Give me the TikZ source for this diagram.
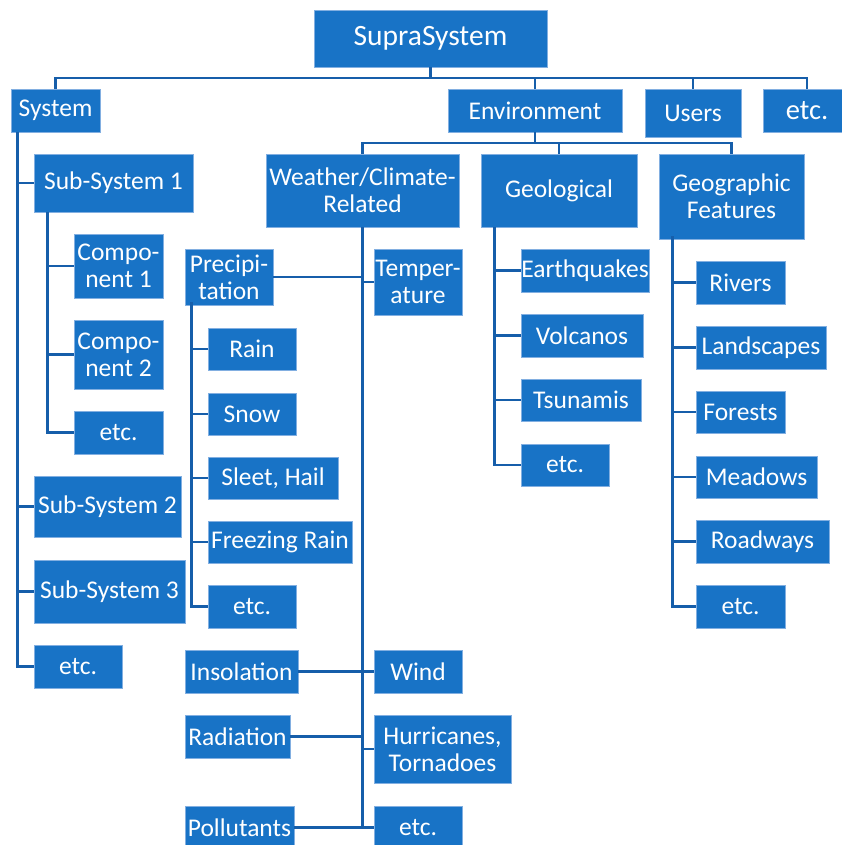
\documentclass[tikz,border=0pt]{standalone}
\usepackage{fontspec}
\setmainfont{Carlito}
\definecolor{boxblue}{RGB}{24,115,198}
\definecolor{boxedge}{RGB}{130,175,225}
\definecolor{linkblue}{RGB}{22,94,170}
\begin{document}
\begin{tikzpicture}[
    x=1pt, y=-1pt,
    % Box styles
    box/.style={fill=boxblue, draw=boxedge, line width=0.6pt, text=white, align=center, inner sep=0pt,
                font=\fontsize{25.5}{27}\selectfont},
    topbox/.style={box, font=\fontsize{29.5}{32}\selectfont},
    % Connector styles
    link/.style={draw=linkblue, line width=2.8pt},
]
\useasboundingbox (0,0) rectangle (841,845);

% === SUPRASYSTEM (top) ===
\node[topbox, minimum width=233pt, minimum height=57pt] (supra) at (430.5, 38.5) {SupraSystem};

% === FIRST LEVEL ===
\node[box, minimum width=89pt, minimum height=43pt] (system) at (55.5, 110.5) {System};
\node[box, minimum width=174pt, minimum height=43pt] (env) at (535, 110.5) {Environment};
\node[box, minimum width=96pt, minimum height=48pt] (users) at (693, 113) {Users};
\node[box, minimum width=88pt, minimum height=43pt, font=\fontsize{28.5}{30}\selectfont] (etc0) at (807, 110.5) {etc.};

\coordinate (bus0) at (0, 78);
\draw[link] (supra.south) -- (supra.south |- bus0);
\draw[link] (system.north) -- (system.north |- bus0) -| (etc0.north);
\draw[link] (env.north) -- (env.north |- bus0);
\draw[link] (users.north) -- (users.north |- bus0);

% === SYSTEM BRANCH (left) ===
\node[box, minimum width=159pt, minimum height=58pt] (sub1) at (113.5, 183) {Sub-System 1};
\node[box, minimum width=89pt, minimum height=64pt] (comp1) at (118.5, 266) {Compo-\\nent 1};
\node[box, minimum width=89pt, minimum height=69pt] (comp2) at (118.5, 354.5) {Compo-\\nent 2};
\node[box, minimum width=89pt, minimum height=43pt] (cetc) at (118.5, 432.5) {etc.};
\node[box, minimum width=147pt, minimum height=61pt] (sub2) at (107.5, 506.5) {Sub-System 2};
\node[box, minimum width=151pt, minimum height=63pt] (sub3) at (109.5, 591.5) {Sub-System 3};
\node[box, minimum width=88pt, minimum height=43pt] (setc) at (78, 666.5) {etc.};

\coordinate (systrunk) at ([xshift=7pt]system.south west);
\draw[link] (systrunk) |- (setc.west);
\foreach \n in {sub1, sub2, sub3}
    \draw[link] (\n.west) -- (\n.west -| systrunk);

\coordinate (subtrunk) at ([xshift=14pt]sub1.south west);
\draw[link] (subtrunk) |- (cetc.west);
\foreach \n in {comp1, comp2}
    \draw[link] (\n.west) -- (\n.west -| subtrunk);

% === ENVIRONMENT BRANCH ===
\node[box, minimum width=193pt, minimum height=73pt] (weather) at (362.5, 190.5) {Weather/Climate-\\Related};
\node[box, minimum width=156pt, minimum height=73pt] (geol) at (559, 190.5) {Geological};
\node[box, minimum width=145pt, minimum height=85pt] (geogr) at (731.5, 196.5) {Geographic\\Features};

\coordinate (bus1) at (0, 143);
\draw[link] (env.south) -- (env.south |- bus1);
\draw[link] (weather.north) -- (weather.north |- bus1) -| (geogr.north);
\draw[link] (geol.north) -- (geol.north |- bus1);

% === WEATHER/CLIMATE ===
\node[box, minimum width=88pt, minimum height=56pt] (precip) at (229, 277) {Precipi-\\tation};
\node[box, minimum width=88pt, minimum height=66pt] (temp) at (418, 282) {Temper-\\ature};
\node[box, minimum width=113pt, minimum height=43pt] (insol) at (241.5, 671.5) {Insolation};
\node[box, minimum width=88pt, minimum height=43pt] (wind) at (418, 671.5) {Wind};
\node[box, minimum width=105pt, minimum height=43pt] (radia) at (237.5, 736.5) {Radiation};
\node[box, minimum width=137pt, minimum height=68pt] (hurri) at (442.5, 749) {Hurricanes,\\Tornadoes};
\node[box, minimum width=109pt, minimum height=43pt] (pollu) at (239.5, 827.5) {Pollutants};
\node[box, minimum width=88pt, minimum height=43pt] (wetc) at (418, 827.5) {etc.};

\draw[link] (weather.south) -- (weather.south |- wetc.west) -- (wetc.west);
\foreach \n in {precip, insol, radia, pollu}
    \draw[link] (\n.east) -- (\n.east -| weather.south);
\foreach \n in {temp, wind, hurri}
    \draw[link] (\n.west) -- (\n.west -| weather.south);

% Precipitation kinds
\node[box, minimum width=88pt, minimum height=42pt] (rain) at (252, 349) {Rain};
\node[box, minimum width=88pt, minimum height=42pt] (snow) at (252, 414) {Snow};
\node[box, minimum width=130pt, minimum height=42pt] (sleet) at (273, 478) {Sleet, Hail};
\node[box, minimum width=144pt, minimum height=42pt] (frain) at (280, 542) {Freezing Rain};
\node[box, minimum width=88pt, minimum height=43pt] (petc) at (252, 606.5) {etc.};

\coordinate (pretrunk) at ([xshift=7pt]precip.south west);
\draw[link] ([yshift=3pt]pretrunk) |- (petc.west);
\foreach \n in {rain, snow, sleet, frain}
    \draw[link] (\n.west) -- (\n.west -| pretrunk);

% === GEOLOGICAL ===
\node[box, minimum width=128pt, minimum height=43pt] (earth) at (585, 270.5) {Earthquakes};
\node[box, minimum width=122pt, minimum height=43pt] (volc) at (582, 335.5) {Volcanos};
\node[box, minimum width=120pt, minimum height=42pt] (tsun) at (581, 400) {Tsunamis};
\node[box, minimum width=88pt, minimum height=42pt] (getc) at (565, 465) {etc.};

\coordinate (geotrunk) at ([xshift=14pt]geol.south west);
\draw[link] (geotrunk) |- (getc.west);
\foreach \n in {earth, volc, tsun}
    \draw[link] (\n.west) -- (\n.west -| geotrunk);

% === GEOGRAPHIC FEATURES ===
\node[box, minimum width=89pt, minimum height=43pt] (rivers) at (740.5, 282.5) {Rivers};
\node[box, minimum width=130pt, minimum height=43pt] (lands) at (761, 347.5) {Landscapes};
\node[box, minimum width=89pt, minimum height=42pt] (forest) at (740.5, 412) {Forests};
\node[box, minimum width=121pt, minimum height=42pt] (mead) at (756.5, 477) {Meadows};
\node[box, minimum width=133pt, minimum height=43pt] (road) at (762.5, 541.5) {Roadways};
\node[box, minimum width=89pt, minimum height=43pt] (gfetc) at (740.5, 606.5) {etc.};

\coordinate (geotrunk2) at ([xshift=14pt]geogr.south west);
\draw[link] ([yshift=3pt]geotrunk2) |- (gfetc.west);
\foreach \n in {rivers, lands, forest, mead, road}
    \draw[link] (\n.west) -- (\n.west -| geotrunk2);

\end{tikzpicture}
\end{document}
